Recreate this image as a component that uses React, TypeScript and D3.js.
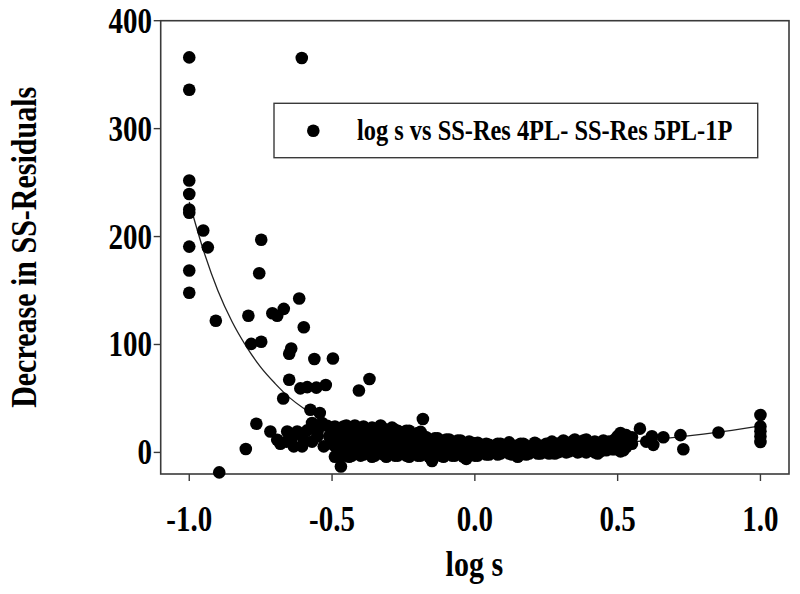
import React from "react";
import * as d3 from "d3";

// ---- data ----
const xTicks = [-1.0, -0.5, 0.0, 0.5, 1.0];
const yTicks = [0, 100, 200, 300, 400];
const xTitle = "log s";
const yTitle = "Decrease in SS-Residuals";
const legendLabel = "log s vs SS-Res 4PL- SS-Res 5PL-1P";

// scattered (isolated) points [log s, decrease]
const outlierPoints: [number, number][] = [
  [-1.0, 366], [-0.606, 365.5], [-1.0, 336], [-1.0, 252], [-1.0, 239.5],
  [-1.0, 225], [-1.0, 222], [-0.951, 205.6], [-0.748, 197], [-1.0, 190.7],
  [-0.935, 190], [-1.0, 168.5], [-0.755, 166], [-1.0, 148], [-0.907, 122],
  [-0.615, 142.6], [-0.793, 126.6], [-0.709, 129], [-0.692, 126.6], [-0.669, 133],
  [-0.599, 116], [-0.783, 100.6], [-0.748, 102.5], [-0.643, 96.3], [-0.65, 91.4],
  [-0.562, 86.5], [-0.497, 87], [-0.65, 67.3], [-0.369, 68], [-0.406, 57.4],
  [-0.611, 59.3], [-0.587, 60.5], [-0.555, 60], [-0.522, 62.4], [-0.671, 50],
  [-0.576, 39.5], [-0.543, 36.5], [-0.182, 31], [-0.765, 26.6], [-0.802, 3.1],
  [-0.895, -18.5], [-0.469, -13],
];

// points of the dense band near zero [log s, decrease]
const bandPoints: [number, number][] = [
  [-0.716, 19.4], [-0.692, 11.8], [-0.681, 8], [-0.657, 19.4], [-0.634, 5.6],
  [-0.605, 5.6], [-0.622, 19.4], [-0.587, 20.4], [-0.57, 27.2], [-0.535, 27.2],
  [-0.517, 24.7], [-0.552, 14.8], [-0.529, 5.6], [-0.64, 14], [-0.6, 12],
  [-0.66, 10], [-0.57, 10], [-0.55, 20], [-0.51, 15], [-0.5, 8], [-0.5, 20],
  [-0.49, -4], [-0.49, 6], [-0.49, 16], [-0.49, 24],
  [-0.48, 1], [-0.48, 11], [-0.48, 20],
  [-0.47, -4], [-0.47, 4], [-0.47, 12], [-0.47, 20],
  [-0.46, -1], [-0.46, 8], [-0.46, 16], [-0.46, 24],
  [-0.45, 0], [-0.45, 9], [-0.45, 18], [-0.45, 25],
  [-0.44, -4], [-0.44, 4], [-0.44, 12], [-0.44, 20],
  [-0.43, -3], [-0.43, 6], [-0.43, 14], [-0.43, 22],
  [-0.42, 0], [-0.42, 9], [-0.42, 17], [-0.42, 25],
  [-0.41, 2], [-0.41, 10], [-0.41, 19],
  [-0.40, -3], [-0.40, 5], [-0.40, 14], [-0.40, 22],
  [-0.39, -2], [-0.39, 7], [-0.39, 15], [-0.39, 24],
  [-0.38, 0], [-0.38, 11], [-0.38, 20],
  [-0.37, 1], [-0.37, 10], [-0.37, 18],
  [-0.36, -4], [-0.36, 6], [-0.36, 15], [-0.36, 23],
  [-0.35, -3], [-0.35, 5], [-0.35, 13], [-0.35, 21],
  [-0.34, 1], [-0.34, 10], [-0.34, 18],
  [-0.33, 0], [-0.33, 9], [-0.33, 17], [-0.33, 25],
  [-0.32, -2], [-0.32, 7], [-0.32, 15], [-0.32, 22],
  [-0.31, -4], [-0.31, 4], [-0.31, 12], [-0.31, 20],
  [-0.30, 2], [-0.30, 10], [-0.30, 18],
  [-0.29, 0], [-0.29, 8], [-0.29, 16], [-0.29, 23],
  [-0.28, -3], [-0.28, 5], [-0.28, 13], [-0.28, 21],
  [-0.27, -3], [-0.27, 5], [-0.27, 13], [-0.27, 20],
  [-0.26, 1], [-0.26, 9], [-0.26, 17],
  [-0.25, 0], [-0.25, 9], [-0.25, 17],
  [-0.24, -3], [-0.24, 5], [-0.24, 13], [-0.24, 20],
  [-0.23, -4], [-0.23, 4], [-0.23, 12], [-0.23, 20],
  [-0.22, 0], [-0.22, 9], [-0.22, 16],
  [-0.21, 0], [-0.21, 8], [-0.21, 15],
  [-0.20, -3], [-0.20, 5], [-0.20, 12], [-0.20, 18],
  [-0.19, -3], [-0.19, 5], [-0.19, 12], [-0.19, 19],
  [-0.18, 1], [-0.18, 9], [-0.18, 15],
  [-0.17, 0], [-0.17, 8], [-0.17, 14],
  [-0.16, -4], [-0.16, 4], [-0.16, 11],
  [-0.15, -8], [-0.15, -2], [-0.15, 5], [-0.15, 11],
  [-0.14, 0], [-0.14, 7], [-0.14, 13],
  [-0.13, 1], [-0.13, 8], [-0.13, 13],
  [-0.12, -3], [-0.12, 4], [-0.12, 11],
  [-0.11, -4], [-0.11, 3], [-0.11, 10],
  [-0.10, 0], [-0.10, 7], [-0.10, 12],
  [-0.09, 0], [-0.09, 6], [-0.09, 12],
  [-0.08, -3], [-0.08, 3], [-0.08, 9],
  [-0.07, -3], [-0.07, 3], [-0.07, 9],
  [-0.06, 0], [-0.06, 6], [-0.06, 11],
  [-0.05, 0], [-0.05, 6], [-0.05, 11],
  [-0.04, -4], [-0.04, 2], [-0.04, 8],
  [-0.03, -6], [-0.03, 2], [-0.03, 7],
  [-0.02, 0], [-0.02, 5], [-0.02, 10],
  [-0.01, -1], [-0.01, 5], [-0.01, 9],
  [0.0, -3], [0.0, 2], [0.0, 8],
  [0.01, -3], [0.01, 3], [0.01, 9],
  [0.02, 0], [0.02, 5],
  [0.03, 0], [0.03, 5],
  [0.04, -2], [0.04, 3], [0.04, 8],
  [0.05, -2], [0.05, 3], [0.05, 7],
  [0.06, 1], [0.06, 5],
  [0.07, 1], [0.07, 5],
  [0.08, -2], [0.08, 3], [0.08, 8],
  [0.09, -1], [0.09, 4], [0.09, 8],
  [0.10, 1], [0.10, 6],
  [0.11, 1], [0.11, 5], [0.12, 9.3],
  [0.12, -1], [0.12, 4],
  [0.13, -2], [0.13, 3],
  [0.14, 1], [0.14, 6],
  [0.15, -4], [0.15, 1], [0.15, 6],
  [0.16, -2], [0.16, 3], [0.16, 8],
  [0.17, 0], [0.17, 4], [0.17, 8],
  [0.18, -2], [0.18, 2], [0.18, 6],
  [0.19, -1], [0.19, 3],
  [0.20, 1], [0.20, 6],
  [0.21, 1], [0.21, 5], [0.21, 9],
  [0.22, -1], [0.22, 3], [0.22, 7],
  [0.23, -1], [0.23, 3],
  [0.24, 1], [0.24, 6],
  [0.25, 0], [0.25, 4], [0.25, 8],
  [0.26, -1], [0.26, 3], [0.26, 7],
  [0.27, 2], [0.27, 6], [0.27, 10],
  [0.28, -1], [0.28, 3], [0.28, 8],
  [0.29, 0], [0.29, 4],
  [0.30, 1], [0.30, 5], [0.30, 9],
  [0.31, 2], [0.31, 7], [0.31, 11],
  [0.32, 0], [0.32, 4], [0.32, 8],
  [0.33, 1], [0.33, 5],
  [0.34, 2], [0.34, 6], [0.34, 10],
  [0.35, 3], [0.35, 8], [0.35, 12],
  [0.36, 0], [0.36, 4],
  [0.37, 1], [0.37, 5],
  [0.38, 2], [0.38, 7], [0.38, 11],
  [0.39, 0], [0.39, 4], [0.39, 9], [0.39, 12],
  [0.40, 2], [0.40, 7],
  [0.41, 2], [0.41, 6],
  [0.42, 0], [0.42, 5], [0.42, 10],
  [0.43, -1], [0.43, 4], [0.43, 9],
  [0.44, 1], [0.44, 6],
  [0.45, 3], [0.45, 7], [0.45, 11],
  [0.46, 2], [0.46, 8],
  [0.47, 5], [0.47, 10],
  [0.48, 3], [0.48, 9],
  [0.49, 3], [0.49, 8], [0.49, 12],
  [0.50, 5], [0.50, 10], [0.50, 15],
  [0.51, 1], [0.51, 6], [0.51, 13], [0.51, 18],
  [0.52, 2], [0.52, 9], [0.52, 15],
  [0.53, 5], [0.53, 11], [0.53, 16],
  [0.54, 8], [0.54, 13],
  [0.55, 8], [0.55, 14],
  [0.578, 22], [0.6, 10], [0.62, 15], [0.625, 7], [0.66, 14],
  [0.72, 16], [0.73, 3], [0.853, 18.5],
  [1.0, 34.6], [1.0, 24], [1.0, 19.5], [1.0, 14.8], [1.0, 9.6],
];

// fitted curve [log s, decrease]
const fitCurve: [number, number][] = [
  [-1.0, 232], [-0.95, 187], [-0.9, 150], [-0.85, 121], [-0.8, 98],
  [-0.75, 79], [-0.7, 64], [-0.65, 51], [-0.6, 41], [-0.55, 33],
  [-0.5, 26.5], [-0.4, 17.5], [-0.3, 11.5], [-0.2, 7.5], [-0.1, 5],
  [0.0, 3.5], [0.1, 3.5], [0.2, 4], [0.3, 5], [0.4, 6.5], [0.5, 8.5],
  [0.6, 11], [0.7, 14], [0.8, 17], [0.9, 20.5], [1.0, 24.5],
];

const FONT = "'Liberation Serif', 'Times New Roman', serif";
const STRETCH = 1.2;

function SText(props: {
  x: number;
  y: number;
  size: number;
  anchor?: "start" | "middle" | "end";
  rotate?: number;
  children: React.ReactNode;
}) {
  const { x, y, size, anchor = "start", rotate = 0, children } = props;
  return (
    <text
      transform={`translate(${x},${y}) rotate(${rotate}) scale(1,${STRETCH})`}
      textAnchor={anchor}
      fontFamily={FONT}
      fontWeight="bold"
      fontSize={size}
      fill="#000"
    >
      {children}
    </text>
  );
}

const fmt = (t: number) => d3.format(".1f")(t).replace("\u2212", "-");

export default function App() {
  const W = 800;
  const H = 594;
  const left = 160.7;
  const right = 789;
  const top = 20.7;
  const bottom = 474;

  const x = d3.scaleLinear().domain([-1.1, 1.1]).range([left, right]);
  const y = d3.scaleLinear().domain([-20, 400]).range([bottom, top]);

  const line = d3
    .line<[number, number]>()
    .x((d) => x(d[0]))
    .y((d) => y(d[1]))
    .curve(d3.curveMonotoneX);

  const allPoints = [...outlierPoints, ...bandPoints];
  const r = 6.3;
  const axisColor = "#3a3a3a";

  return (
    <svg
      width={W}
      height={H}
      style={{ position: "absolute", left: 0, top: 0, background: "#fff" }}
    >
      <rect x={0} y={0} width={W} height={H} fill="#fff" />
      {/* frame */}
      <rect
        x={left}
        y={top}
        width={right - left}
        height={bottom - top}
        fill="none"
        stroke={axisColor}
        strokeWidth={1.6}
      />
      {/* x ticks */}
      {xTicks.map((t) => (
        <g key={"xt" + t}>
          <line x1={x(t)} x2={x(t)} y1={bottom} y2={bottom + 7} stroke={axisColor} strokeWidth={1.4} />
          <SText x={x(t)} y={531} size={29} anchor="middle">
            {fmt(t)}
          </SText>
        </g>
      ))}
      {/* y ticks */}
      {yTicks.map((t) => (
        <g key={"yt" + t}>
          <line x1={left - 7} x2={left} y1={y(t)} y2={y(t)} stroke={axisColor} strokeWidth={1.4} />
          <SText x={152} y={y(t) + 12} size={29} anchor="end">
            {String(t)}
          </SText>
        </g>
      ))}
      {/* fit curve */}
      <path d={line(fitCurve) || ""} fill="none" stroke="#222" strokeWidth={1.3} />
      {/* points */}
      {allPoints.map((p, i) => (
        <circle key={i} cx={x(p[0])} cy={y(p[1])} r={r} fill="#000" />
      ))}
      {/* legend */}
      <rect x={274} y={103.3} width={483.7} height={54.4} fill="#fff" stroke={axisColor} strokeWidth={1.4} />
      <circle cx={313.3} cy={130.7} r={r} fill="#000" />
      <SText x={357} y={139.5} size={24.4}>
        {legendLabel}
      </SText>
      {/* axis titles */}
      <SText x={(left + right) / 2 - 0.5} y={576} size={30} anchor="middle">
        {xTitle}
      </SText>
      <SText x={36} y={(top + bottom) / 2} size={30} anchor="middle" rotate={-90}>
        {yTitle}
      </SText>
    </svg>
  );
}
